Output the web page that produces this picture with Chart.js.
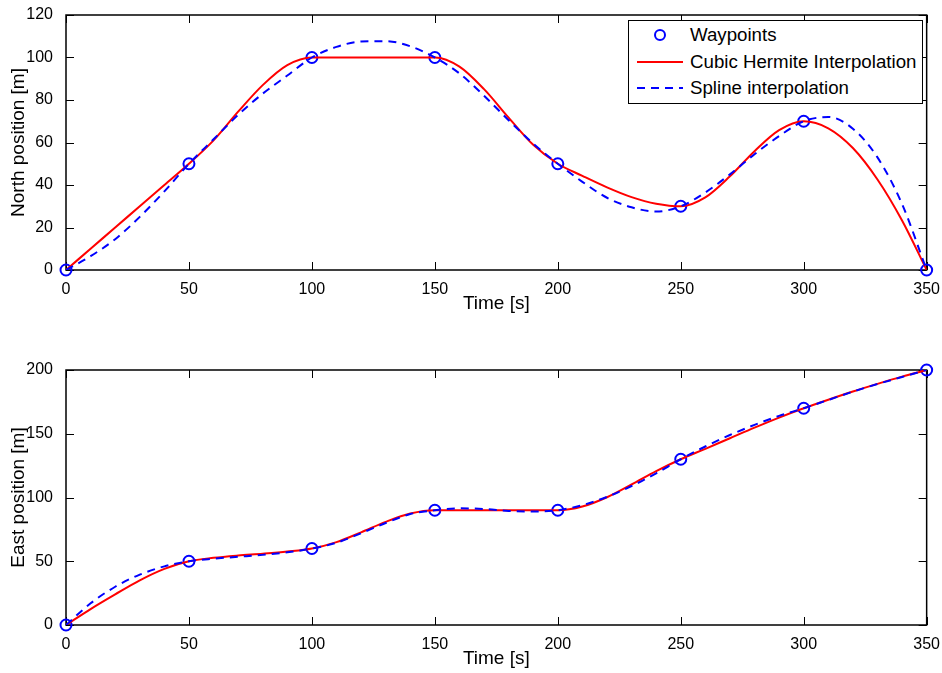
<!DOCTYPE html>
<html>
<head>
<meta charset="utf-8">
<script src="https://cdn.jsdelivr.net/npm/chart.js@4.4.0/dist/chart.umd.min.js"></script>
<style>
  body { margin: 0; background: #fff; }
  #wrap { position: relative; width: 942px; height: 673px; overflow: hidden; }
  #north { position: absolute; left: 0; top: 0; }
  #east { position: absolute; left: 0; top: 335px; }
  #legend {
    position: absolute; left: 628px; top: 20px; width: 293px; height: 81px;
    border: 1px solid #000; background: #fff; padding-top: 1px; box-sizing: content-box;
    font-family: 'Liberation Sans', Arial, sans-serif; font-size: 18.7px; color: #000;
  }
  .row { position: relative; height: 26.5px; }
  .sample { position: absolute; left: 8px; top: 13px; width: 46px; }
  .txt { position: absolute; left: 61px; top: 0; line-height: 26.5px; white-space: nowrap; }
</style>
</head>
<body>
<div id="wrap">
  <canvas id="north" width="942" height="335"></canvas>
  <canvas id="east" width="942" height="338"></canvas>
  <div id="legend"></div>
</div>
<script>
// waypoints
const timeWaypoints = [0, 50, 100, 150, 200, 250, 300, 350];
const northWaypoints = [0, 50, 100, 100, 50, 30, 70, 0];
const eastWaypoints = [0, 50, 60, 90, 90, 130, 170, 200];

// curves every 10 s
const timeCurve = [0, 10, 20, 30, 40, 50, 60, 70, 80, 90, 100, 110, 120, 130, 140, 150, 160, 170,
  180, 190, 200, 210, 220, 230, 240, 250, 260, 270, 280, 290, 300, 310, 320, 330, 340, 350];
const northHermite = [0, 10, 20, 30, 40, 50, 61, 74.5, 87, 96.4, 100, 100, 100, 100, 100, 100, 95.7, 85.1,
  71.7, 58.9, 50, 44.3, 38.9, 34.3, 31.2, 30, 34.2, 44.1, 55.9, 65.8, 70, 66.7, 57.4, 42.6, 23.3, 0];
const northSpline = [0, 6.5, 14.5, 25, 37, 50, 61.5, 73, 83, 91.5, 100, 105, 107.5, 107.7, 105.3, 100, 92.5, 82,
  70.5, 59.5, 50, 41.5, 34, 29.5, 27.5, 30, 36.5, 45, 54.5, 63, 70, 72, 66.5, 53, 31, 0];
const eastHermite = [0, 12.5, 24, 35, 44, 50, 52.7, 54.5, 55.9, 57.6, 60, 65, 72.7, 80.9, 87.4, 90, 90, 90,
  90, 90, 90, 92.9, 100.2, 110.2, 120.7, 130, 138.2, 146.5, 154.8, 162.7, 170, 176.7, 183.1, 189.1, 194.8, 200];
const eastSpline = [0, 17, 30, 39.5, 46, 50, 52, 53.5, 55, 57, 60, 64.5, 72, 80, 87, 90, 91.5, 91,
  89.5, 89, 90, 94, 100.5, 109, 119, 130, 140, 149, 157, 164, 170, 176.5, 183, 189, 194.5, 200];

const seriesNames = ['Waypoints', 'Cubic Hermite Interpolation', 'Spline interpolation'];

const FONT = "'Liberation Sans', Arial, sans-serif";

function pts(xs, ys) {
  return xs.map((x, i) => ({ x: x, y: ys[i] }));
}

// matlab style box with inward ticks
const boxTicks = {
  id: 'boxTicks',
  beforeDatasetsDraw(chart) {
    const { ctx, chartArea: a, scales: { x, y } } = chart;
    ctx.save();
    ctx.strokeStyle = '#000';
    ctx.lineWidth = 1;
    x.ticks.forEach(t => {
      const px = Math.round(x.getPixelForValue(t.value)) + 0.5;
      ctx.beginPath();
      ctx.moveTo(px, a.bottom); ctx.lineTo(px, a.bottom - 8);
      ctx.moveTo(px, a.top); ctx.lineTo(px, a.top + 8);
      ctx.stroke();
    });
    y.ticks.forEach(t => {
      const py = Math.round(y.getPixelForValue(t.value)) + 0.5;
      ctx.beginPath();
      ctx.moveTo(a.left, py); ctx.lineTo(a.left + 8, py);
      ctx.moveTo(a.right, py); ctx.lineTo(a.right - 8, py);
      ctx.stroke();
    });
    ctx.lineWidth = 1.5;
    ctx.strokeRect(a.left, a.top, a.right - a.left, a.bottom - a.top);
    ctx.restore();
  }
};

function makeChart(id, wp, herm, spl, yMax, yStep, yLabel, pad) {
  new Chart(document.getElementById(id), {
    type: 'line',
    data: {
      datasets: [
        {
          label: seriesNames[0],
          data: pts(timeWaypoints, wp),
          showLine: false,
          pointStyle: 'circle',
          pointRadius: 5.5,
          pointBorderWidth: 2,
          pointBorderColor: '#0000ff',
          pointBackgroundColor: 'rgba(0,0,0,0)',
          clip: false,
          order: 3
        },
        {
          label: seriesNames[1],
          data: pts(timeCurve, herm),
          borderColor: '#ff0000',
          borderWidth: 2,
          pointRadius: 0,
          cubicInterpolationMode: 'monotone',
          fill: false,
          order: 2
        },
        {
          label: seriesNames[2],
          data: pts(timeCurve, spl),
          borderColor: '#0000ff',
          borderWidth: 2,
          borderDash: [8, 6],
          pointRadius: 0,
          cubicInterpolationMode: 'monotone',
          fill: false,
          order: 1
        }
      ]
    },
    options: {
      responsive: false,
      animation: false,
      devicePixelRatio: 1,
      layout: { padding: pad },
      plugins: { legend: { display: false }, tooltip: { enabled: false } },
      scales: {
        x: {
          type: 'linear',
          min: 0,
          max: 350,
          grid: { display: false },
          border: { display: false },
          ticks: { stepSize: 50, padding: 2, maxRotation: 0, color: '#000', font: { family: FONT, size: 16 } },
          title: { display: true, text: 'Time [s]', color: '#000', font: { family: FONT, size: 19 }, padding: { top: 0, bottom: 0 } },
          afterFit: s => { s.height = 45; }
        },
        y: {
          min: 0,
          max: yMax,
          grid: { display: false },
          border: { display: false },
          ticks: { stepSize: yStep, padding: 5, color: '#000', font: { family: FONT, size: 16 } },
          title: { display: true, text: yLabel, color: '#000', font: { family: FONT, size: 19 }, padding: { top: 7, bottom: 0 } },
          afterFit: s => { s.width = 66; }
        }
      }
    },
    plugins: [boxTicks]
  });
}

makeChart('north', northWaypoints, northHermite, northSpline, 120, 20, 'North position [m]',
  { left: 0, right: 14, top: 15, bottom: 20 });
makeChart('east', eastWaypoints, eastHermite, eastSpline, 200, 50, 'East position [m]',
  { left: 0, right: 14, top: 35, bottom: 3 });

// legend drawn in the top axes like the original
const legend = document.getElementById('legend');
const samples = [
  '<div style="position:absolute;left:17px;top:-6px;width:8px;height:8px;border:2px solid #0000ff;border-radius:50%"></div>',
  '<div style="height:2px;background:#ff0000;margin-top:-1px"></div>',
  '<div style="height:2px;margin-top:-1px;background:repeating-linear-gradient(90deg,#0000ff 0 8px,transparent 8px 14px)"></div>'
];
seriesNames.forEach((name, i) => {
  const row = document.createElement('div');
  row.className = 'row';
  row.innerHTML = '<div class="sample">' + samples[i] + '</div><div class="txt">' + name + '</div>';
  legend.appendChild(row);
});
</script>
</body>
</html>
